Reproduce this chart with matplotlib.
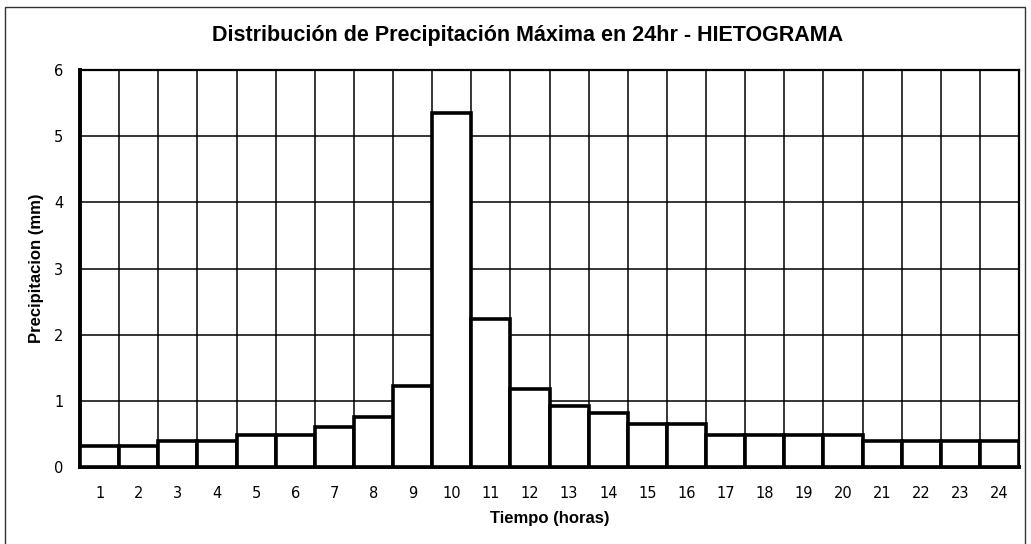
import matplotlib.pyplot as plt
from matplotlib.patches import Rectangle

# hourly rainfall (mm) for the 24 hour storm
horas = list(range(1, 25))
precip = [0.32, 0.32, 0.40, 0.40, 0.49, 0.49, 0.60, 0.76, 1.22, 5.35,
          2.23, 1.18, 0.92, 0.82, 0.65, 0.65, 0.48, 0.48, 0.48, 0.48,
          0.39, 0.39, 0.39, 0.39]
yticks = [0, 1, 2, 3, 4, 5, 6]

fig = plt.figure(figsize=(10.31, 5.44), dpi=100)
ax = fig.add_axes([0.0776, 0.1415, 0.9108, 0.7298])

# grid behind the bars
ax.set_axisbelow(True)
ax.set_xticks([h - 0.5 for h in horas] + [24.5], minor=True)
ax.grid(True, which="minor", axis="x", color="black", linewidth=1.1)
ax.grid(True, which="major", axis="y", color="black", linewidth=1.1)

ax.bar(horas, precip, width=1.0, color="white", edgecolor="black",
       linewidth=2.6, zorder=3)

ax.set_xlim(0.5, 24.5)
ax.set_ylim(0, 6)
ax.set_xticks(horas)
ax.set_xticklabels([str(h) for h in horas], fontsize=10.5, family="DejaVu Sans")
ax.set_yticks(yticks)
ax.set_yticklabels([str(v) for v in yticks], fontsize=10.5, family="DejaVu Sans")
ax.tick_params(which="both", length=0, pad=14)
ax.tick_params(axis="y", pad=12)

for side in ["left", "bottom"]:
    ax.spines[side].set_linewidth(2.8)
for side in ["top", "right"]:
    ax.spines[side].set_linewidth(1.6)

ax.set_xlabel("Tiempo (horas)", fontsize=12, fontweight="bold",
              family="Liberation Sans", labelpad=7)
ax.set_ylabel("Precipitacion (mm)", fontsize=12, fontweight="bold",
              family="Liberation Sans", labelpad=7)
fig.text(0.512, 0.935, "Distribución de Precipitación Máxima en 24hr - HIETOGRAMA",
         ha="center", va="center", fontsize=15.5, fontweight="bold",
         family="Liberation Sans")

# thin frame round the whole chart area
fig.patches.append(Rectangle((0.005, -0.01), 0.989, 0.998, transform=fig.transFigure,
                             fill=False, edgecolor="#333333", linewidth=1.0))

fig.savefig("out.png", dpi=100)
